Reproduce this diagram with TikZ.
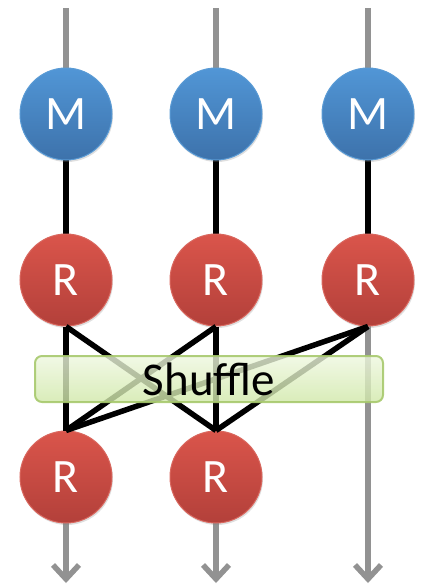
\documentclass[tikz,border=0pt]{standalone}
\usepackage{fontspec}
\setmainfont{Carlito}
\usetikzlibrary{arrows.meta,shadows}
\definecolor{mtop}{HTML}{5196D6}
\definecolor{mbot}{HTML}{3D72AB}
\definecolor{mrim}{HTML}{5A9BD5}
\definecolor{rtop}{HTML}{DA554B}
\definecolor{rbot}{HTML}{B3403A}
\definecolor{rrim}{HTML}{D9675E}
\definecolor{gline}{HTML}{929292}
\definecolor{stop}{HTML}{EEF7DF}
\definecolor{sbot}{HTML}{D0E8A8}
\definecolor{srim}{HTML}{A7C96D}
\tikzset{
  ball/.style={circle, minimum size=92pt, inner sep=0pt, draw, line width=1pt,
    text=white, font=\fontsize{48}{48}\selectfont,
    drop shadow={opacity=0.25, shadow xshift=1pt, shadow yshift=-2pt}},
  mapnode/.style={ball, top color=mtop, bottom color=mbot, draw=mrim},
  rednode/.style={ball, top color=rtop, bottom color=rbot, draw=rrim},
  flow/.style={draw=gline, line width=5.5pt},
  flowarrow/.style={flow, -{Straight Barb[length=14pt,width=26pt,line width=5.5pt]}},
  link/.style={draw=black, line width=5.5pt},
  shufflebox/.style={rounded corners=7pt, minimum width=348pt, minimum height=46pt,
    draw=srim, line width=2pt, top color=stop, bottom color=sbot,
    fill opacity=0.8, draw opacity=0.9, text opacity=1,
    font=\fontsize{47}{47}\selectfont, text=black}
}
\begin{document}
\begin{tikzpicture}[x=1pt,y=-1pt]
\useasboundingbox (0,0) rectangle (421,584);
% free ends
\coordinate (t1) at (66,8);
\coordinate (t2) at (216,8);
\coordinate (t3) at (368,8);
\coordinate (e1) at (66,583);
\coordinate (e2) at (216,583);
\coordinate (e3) at (368,583);
% node positions
\path (66,114) coordinate (pM1) (216,114) coordinate (pM2) (368,114) coordinate (pM3)
      (66,280) coordinate (pR1) (216,280) coordinate (pR2) (368,280) coordinate (pR3)
      (66,477) coordinate (pS1) (216,477) coordinate (pS2);
% lines
\draw[flow] (t1) -- (pM1);
\draw[flow] (t2) -- (pM2);
\draw[flow] (t3) -- (pM3);
\draw[link] (pM1) -- (pR1);
\draw[link] (pM2) -- (pR2);
\draw[link] (pM3) -- (pR3);
\draw[flowarrow] (pS1) -- (e1);
\draw[flowarrow] (pS2) -- (e2);
\draw[flowarrow] ([yshift=40pt]pR3) -- (e3);
% nodes
\node[mapnode] (M1) at (pM1) {M};
\node[mapnode] (M2) at (pM2) {M};
\node[mapnode] (M3) at (pM3) {M};
\node[rednode] (R1) at (pR1) {R};
\node[rednode] (R2) at (pR2) {R};
\node[rednode] (R3) at (pR3) {R};
\node[rednode] (S1) at (pS1) {R};
\node[rednode] (S2) at (pS2) {R};
% shuffle links
\draw[link] (R1.south) -- (S1.north);
\draw[link] (R1.south) -- (S2.north);
\draw[link] (R2.south) -- (S1.north);
\draw[link] (R2.south) -- (S2.north);
\draw[link] (R3.south) -- (S1.north);
\draw[link] (R3.south) -- (S2.north);
% shuffle box
\node[shufflebox] (shuffle) at (209,379) {Shuffle};
\end{tikzpicture}
\end{document}
